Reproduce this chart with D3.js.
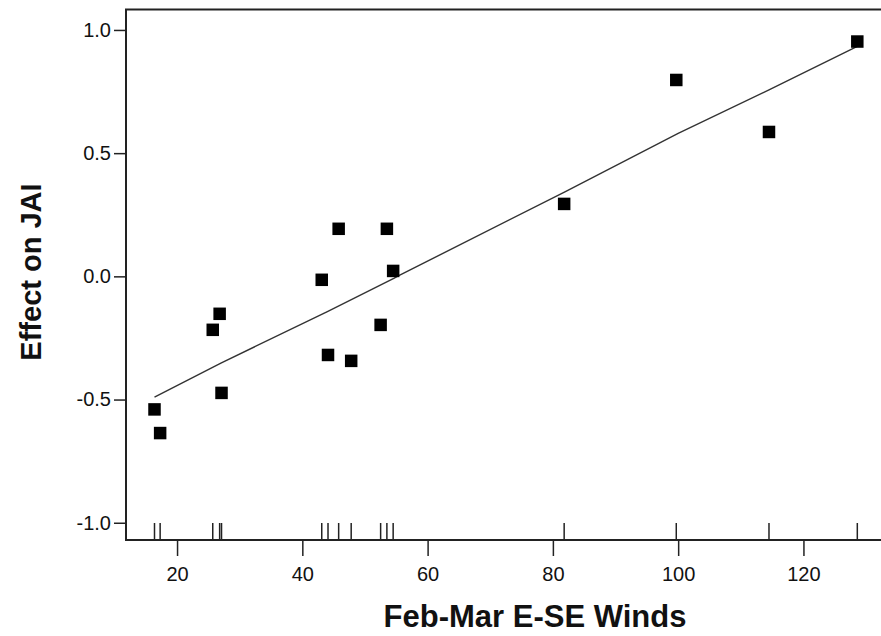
<!DOCTYPE html>
<html>
<head>
<meta charset="utf-8">
<script src="https://cdn.jsdelivr.net/npm/d3@7"></script>
<style>
  html, body { margin: 0; padding: 0; background: #fff; }
  svg { display: block; }
  text { font-family: "Liberation Sans", Arial, Helvetica, sans-serif; fill: #111; }
</style>
</head>
<body>
<svg id="chart" width="881" height="636"></svg>
<script>
// Feb-Mar E-SE winds vs. partial effect on JAI
const windX = [16.4, 17.3, 25.7, 26.8, 27.1, 43.1, 44.1, 45.8, 47.8, 52.5, 53.5, 54.5, 81.8, 99.7, 114.5, 128.6];
const effectY = [-0.54, -0.636, -0.217, -0.152, -0.473, -0.014, -0.319, 0.193, -0.343, -0.197, 0.193, 0.022, 0.294, 0.797, 0.586, 0.953];

// fitted smooth (evaluated along the wind range)
const smoothX = [16.4, 27.0, 44.0, 54.6, 55.4, 82.0, 100.0, 114.5, 128.6];
const smoothY = [-0.49, -0.352, -0.143, -0.008, 0.003, 0.344, 0.58, 0.757, 0.933];

const xTicks = [20, 40, 60, 80, 100, 120];
const yTicks = [-1.0, -0.5, 0.0, 0.5, 1.0];

const svg = d3.select("#chart");

const x = d3.scaleLinear().domain([11.85, 133.5]).range([126, 888]);
const y = d3.scaleLinear().domain([-1.07, 1.083]).range([540, 9.5]);

// plain hyphen for negative numbers
const fmtY = d => d3.format(".1f")(d).replace("\u2212", "-");

// plot frame
svg.append("rect")
  .attr("x", x.range()[0]).attr("y", y.range()[1])
  .attr("width", x.range()[1] - x.range()[0])
  .attr("height", y.range()[0] - y.range()[1])
  .attr("fill", "none").attr("stroke", "#222").attr("stroke-width", 2);

// x axis (ticks below the frame)
const xAxis = d3.axisBottom(x).tickValues(xTicks).tickSize(16).tickPadding(11)
  .tickFormat(d3.format("d"));
const gx = svg.append("g").attr("transform", `translate(0,${y.range()[0]})`).call(xAxis);
gx.select(".domain").remove();
gx.selectAll(".tick line").attr("stroke", "#222").attr("stroke-width", 1.5);
gx.selectAll(".tick text").attr("font-size", 20).attr("fill", "#111");

// y axis
const yAxis = d3.axisLeft(y).tickValues(yTicks).tickSize(12).tickPadding(3)
  .tickFormat(fmtY);
const gy = svg.append("g").attr("transform", `translate(${x.range()[0]},0)`).call(yAxis);
gy.select(".domain").remove();
gy.selectAll(".tick line").attr("stroke", "#222").attr("stroke-width", 1.5);
gy.selectAll(".tick text").attr("font-size", 20).attr("fill", "#111");

// rug of observed wind values
svg.append("g").selectAll("line").data(windX).join("line")
  .attr("x1", d => x(d)).attr("x2", d => x(d))
  .attr("y1", y.range()[0]).attr("y2", y.range()[0] - 17)
  .attr("stroke", "#222").attr("stroke-width", 1.5);

// smooth line
const line = d3.line().x(d => x(d[0])).y(d => y(d[1]));
svg.append("path")
  .datum(d3.zip(smoothX, smoothY))
  .attr("d", line)
  .attr("fill", "none").attr("stroke", "#333").attr("stroke-width", 1.4);

// partial residual points
const s = 12.5;
svg.append("g").selectAll("rect").data(d3.zip(windX, effectY)).join("rect")
  .attr("x", d => x(d[0]) - s / 2).attr("y", d => y(d[1]) - s / 2)
  .attr("width", s).attr("height", s).attr("fill", "#000");

// axis titles
svg.append("text")
  .attr("x", 535).attr("y", 627)
  .attr("text-anchor", "middle").attr("font-size", 31).attr("font-weight", "bold")
  .text("Feb-Mar E-SE Winds");

svg.append("text")
  .attr("transform", `translate(41,272) rotate(-90)`)
  .attr("text-anchor", "middle").attr("font-size", 29).attr("font-weight", "bold")
  .text("Effect on JAI");
</script>
</body>
</html>
